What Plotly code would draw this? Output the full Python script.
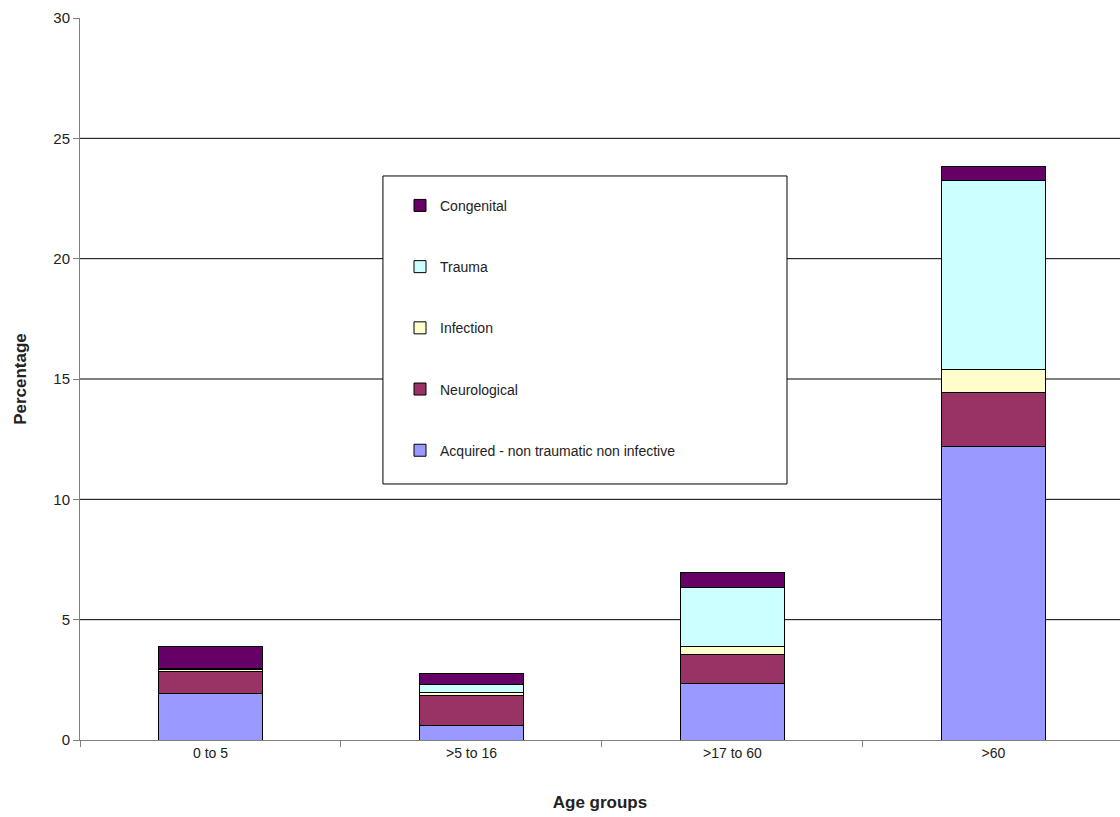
import plotly.graph_objects as go

age_groups = ["0 to 5", ">5 to 16", ">17 to 60", ">60"]

acquired = [1.95, 0.62, 2.35, 12.2]
neurological = [0.9, 1.25, 1.2, 2.25]
infection = [0.07, 0.1, 0.35, 0.95]
trauma = [0.07, 0.35, 2.45, 7.85]
congenital = [0.88, 0.45, 0.6, 0.6]

series = [
    ("Acquired - non traumatic non infective", acquired, "#9999FF"),
    ("Neurological", neurological, "#993366"),
    ("Infection", infection, "#FFFFCC"),
    ("Trauma", trauma, "#CCFFFF"),
    ("Congenital", congenital, "#660066"),
]

y_ticks = [0, 5, 10, 15, 20, 25, 30]
grid_values = [5, 10, 15, 20, 25]

fig = go.Figure()
n = len(series)
for i, (name, vals, color) in enumerate(series):
    fig.add_trace(go.Bar(
        x=age_groups, y=vals, name=name,
        marker=dict(color=color, line=dict(color="black", width=1)),
        width=0.4, legendgroup=f"g{i}", legendrank=n - i,
    ))

for v in grid_values:
    fig.add_shape(type="line", xref="paper", yref="y", x0=0, x1=1, y0=v, y1=v,
                  line=dict(color="black", width=1), layer="below")

# legend frame
fig.add_shape(type="rect", xref="paper", yref="paper",
              x0=0.2913, x1=0.6798, y0=0.3546, y1=0.7812,
              line=dict(color="black", width=1), fillcolor="white", layer="below")

font = "Liberation Sans, Arial, sans-serif"
fig.update_layout(
    width=1120, height=817,
    margin=dict(l=80, r=0, t=18, b=77),
    barmode="stack",
    plot_bgcolor="white", paper_bgcolor="white",
    font=dict(family=font, size=14, color="#222"),
    showlegend=True,
    legend=dict(
        x=0.3077, y=0.762, xanchor="left", yanchor="top",
        bgcolor="rgba(0,0,0,0)", borderwidth=0,
        traceorder="grouped", tracegroupgap=40,
        font=dict(size=14, family=font, color="#222"),
        itemwidth=30,
    ),
    xaxis=dict(
        type="category", range=[-0.5, 3.485],
        showline=True, linecolor="#808080", linewidth=1,
        ticks="outside", tickson="boundaries", ticklen=6, tickcolor="#808080",
        showgrid=False,
        title=dict(text="<b>Age groups</b>", font=dict(size=17, family=font, color="#222"), standoff=36),
        tickfont=dict(size=14, color="#222"),
    ),
    yaxis=dict(
        range=[0, 30], tickvals=y_ticks,
        showline=True, linecolor="#808080", linewidth=1,
        ticks="outside", ticklen=6, tickcolor="#808080",
        showgrid=False, zeroline=False,
        title=dict(text="<b>Percentage</b>", font=dict(size=17, family=font, color="#222"), standoff=22),
        tickfont=dict(size=15, color="#222"),
    ),
)

fig.write_html("out.html")
